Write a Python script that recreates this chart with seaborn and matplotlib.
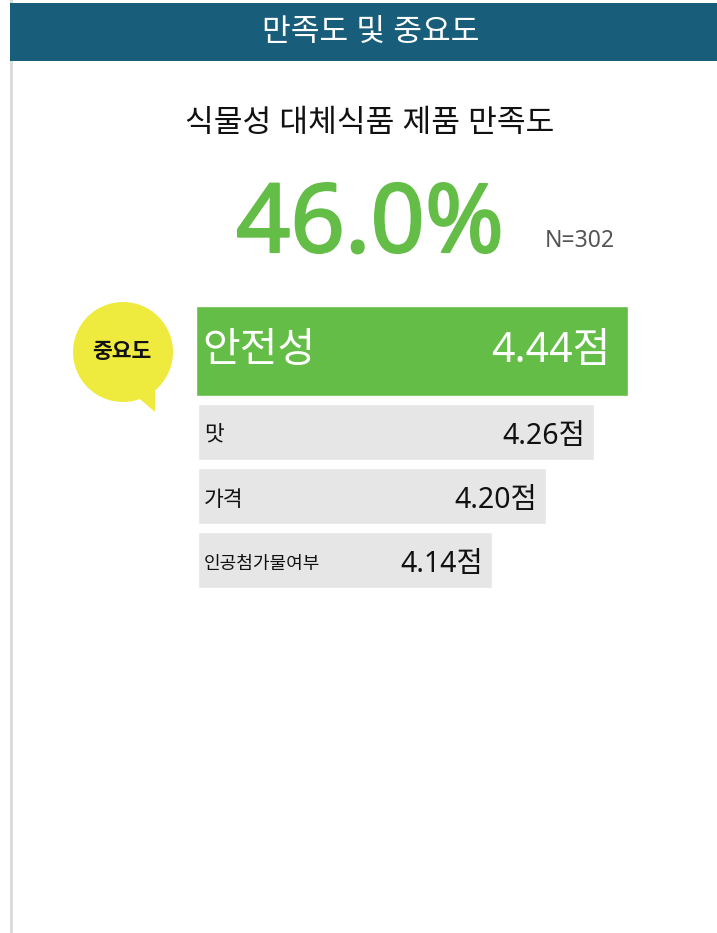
import numpy as np
import pandas as pd
import matplotlib
matplotlib.use("Agg")
import matplotlib.pyplot as plt
import matplotlib.patheffects as pe
from matplotlib.patches import Rectangle, Circle, Polygon
import seaborn as sns

# ---- data ----
title = "만족도 및 중요도"
subtitle = "식물성 대체식품 제품 만족도"
satisfaction = 46.0
n_resp = 302
bubble_label = "중요도"
items = ["안전성", "맛", "가격", "인공첨가물여부"]
scores = [4.44, 4.26, 4.20, 4.14]
bar_pct = [100, 91.7, 80.6, 68.1]   # bar length, % of the longest bar

GREEN = "#64bd46"
NAVY = "#185d79"
GREY_BAR = "#e6e6e6"
YELLOW = "#eeea3e"

sns.set_theme(style="white")
plt.rcParams["font.family"] = ["Noto Sans", "Noto Sans CJK KR", "DejaVu Sans"]

W, H = 717, 933
fig = plt.figure(figsize=(W / 100, H / 100), dpi=100)

# overlay in pixel units for the frame, header and bubble
bg = fig.add_axes([0, 0, 1, 1])
bg.set_xlim(0, W)
bg.set_ylim(H, 0)
bg.axis("off")

bg.add_patch(Rectangle((10, 0), 3, H, color="#dcdcdc", lw=0))
bg.add_patch(Rectangle((10, 3), W - 10, 58, color=NAVY, lw=0))
bg.text(371, 33, title, color="white", fontsize=22.5, ha="center", va="center")

bg.text(370, 124, subtitle, color="#111111", fontsize=22.5, ha="center", va="center")
# big number: regular face thickened a bit with a same-colour stroke
bg.text(370, 252, f"{satisfaction:.1f}%", color=GREEN, fontsize=68.5,
        ha="center", va="baseline",
        path_effects=[pe.withStroke(linewidth=1.6, foreground=GREEN)])
bg.text(545, 247, f"N={n_resp}", color="#555555", fontsize=16.5,
        ha="left", va="baseline")

# speech bubble
bg.add_patch(Circle((123, 352), 50, color=YELLOW, lw=0))
bg.add_patch(Polygon([(134, 394), (155, 412), (155, 384)], closed=True,
                     color=YELLOW, lw=0))
bg.text(122, 352, bubble_label, fontsize=15.5, fontweight="bold",
        ha="center", va="center", color="#111111")

# ---- bars ----
df = pd.DataFrame({"item": items, "score": scores, "pct": bar_pct})
top = df.iloc[:1]
rest = df.iloc[1:]

ax_top = fig.add_axes([196 / W, (H - 396) / H, 432 / W, 90 / H])
sns.barplot(data=top, x="pct", y="item", orient="h", color=GREEN,
            saturation=1, width=1.0, ax=ax_top)
ax_top.set_xlim(0, 100)
ax_top.set_ylim(0.5, -0.5)
ax_top.axis("off")

for i, r in enumerate(top.itertuples()):
    ax_top.annotate(r.item, xy=(0, i), xytext=(6, 0), textcoords="offset pixels",
                    ha="left", va="center", color="white", fontsize=29.5)
    ax_top.annotate(f"{r.score:.2f}점", xy=(r.pct, i), xytext=(-18, 0),
                    textcoords="offset pixels", ha="right", va="center",
                    color="white", fontsize=29.5)

ax_rest = fig.add_axes([198 / W, (H - 592) / H, 432 / W, 192 / H])
sns.barplot(data=rest, x="pct", y="item", orient="h", color=GREY_BAR,
            saturation=1, width=0.875, ax=ax_rest)
ax_rest.set_xlim(0, 100)
ax_rest.set_ylim(2.5, -0.5)
ax_rest.axis("off")

for i, r in enumerate(rest.itertuples()):
    fs = 15.5 if len(r.item) <= 3 else 13
    ax_rest.annotate(r.item, xy=(0, i), xytext=(6, -4), textcoords="offset pixels",
                     ha="left", va="center", color="#111111", fontsize=fs)
    ax_rest.annotate(f"{r.score:.2f}점", xy=(r.pct, i), xytext=(-9, -4),
                     textcoords="offset pixels", ha="right", va="center",
                     color="#111111", fontsize=20.5)

fig.savefig("out.png", dpi=100)
